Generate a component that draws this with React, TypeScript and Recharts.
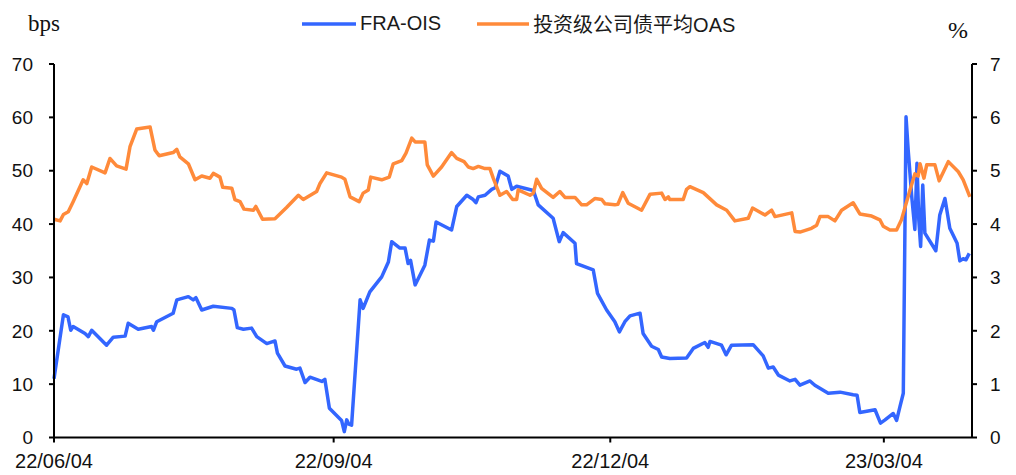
import React from 'react';
import { LineChart, Line, XAxis, YAxis, Legend } from 'recharts';

// x positions are days since 2022/06/04
const fraDays = [0, 3.1, 4.6, 5.5, 6.3, 10.2, 11.3, 12.4, 17.3, 19.5, 23.4, 24.4, 27.7, 32.1, 32.7, 33.8, 39.2, 40.4, 44.2, 45.8, 46.7, 48.6, 52.4, 58.5, 59.2, 60.3, 62.3, 65.0, 66.7, 70.0, 72.7, 73.5, 76.0, 79.8, 80.9, 82.6, 84.2, 88.1, 89.1, 90.6, 94.6, 95.5, 96.3, 97.0, 97.9, 100.7, 101.7, 103.9, 107.8, 110.0, 111.1, 113.8, 115.5, 116.5, 117.3, 118.8, 122.0, 123.5, 124.8, 125.7, 130.8, 132.5, 135.8, 137.9, 138.8, 139.6, 141.8, 144.0, 145.1, 146.7, 149.4, 150.6, 152.2, 157.7, 159.3, 164.2, 166.2, 167.5, 171.4, 171.9, 177.4, 178.8, 181.8, 184.5, 186.0, 187.8, 189.5, 192.8, 193.8, 196.6, 198.8, 199.9, 202.6, 208.1, 210.3, 214.1, 215.2, 215.8, 219.6, 221.1, 222.9, 230.0, 233.3, 235.0, 236.6, 238.3, 242.1, 243.8, 245.4, 248.7, 250.3, 254.7, 258.6, 262.9, 264.2, 265.1, 270.1, 271.9, 273.4, 276.1, 277.2, 278.3, 279.4, 280.3, 281.0, 282.2, 283.2, 283.9, 284.5, 285.1, 285.8, 286.5, 290.1, 291.4, 293.1, 294.7, 297.1, 298.0, 299.1, 300.0, 301.1];
const fraValues = [11, 23.0, 22.6, 20.1, 20.8, 19.5, 18.9, 20.1, 17.3, 18.8, 19.0, 21.4, 20.3, 20.8, 20.1, 21.7, 23.3, 25.8, 26.4, 25.8, 26.2, 23.9, 24.6, 24.2, 23.9, 20.6, 20.3, 20.5, 18.9, 17.6, 18.1, 15.8, 13.4, 12.8, 13.0, 10.3, 11.3, 10.5, 10.9, 5.5, 3.2, 1.1, 3.3, 2.5, 2.3, 25.8, 24.2, 27.3, 30.1, 32.9, 36.7, 35.5, 35.5, 32.6, 33.2, 28.6, 32.3, 37.0, 36.8, 40.4, 38.9, 43.3, 45.4, 44.6, 44.0, 45.1, 45.4, 46.5, 46.8, 49.9, 49.0, 46.5, 47.1, 46.3, 43.6, 41.1, 36.7, 38.4, 36.4, 32.6, 31.4, 27.0, 23.9, 21.7, 19.8, 21.7, 22.8, 23.3, 19.5, 17.1, 16.5, 15.1, 14.8, 14.9, 16.7, 17.8, 16.9, 18.0, 17.3, 15.5, 17.3, 17.4, 15.3, 13.0, 13.2, 11.7, 10.6, 10.9, 9.8, 10.6, 9.8, 8.3, 8.5, 8.0, 7.9, 4.7, 5.2, 2.7, 3.3, 4.5, 3.2, 5.8, 8.3, 60.1, 53.9, 45, 39.0, 51.4, 40.8, 35.8, 47.3, 38.3, 35.0, 41.7, 44.8, 39.2, 36.4, 33.1, 33.5, 33.3, 34.5];

const oasDays = [0, 2.0, 3.1, 4.7, 6.3, 9.6, 10.8, 12.4, 16.8, 18.4, 20.6, 23.7, 25.0, 27.2, 31.6, 33.2, 34.6, 39.2, 40.4, 41.4, 44.2, 46.4, 48.6, 51.3, 52.4, 54.6, 55.5, 58.5, 59.5, 61.2, 62.5, 65.6, 66.4, 68.6, 72.7, 76.5, 80.4, 82.0, 86.4, 87.5, 89.7, 94.6, 95.7, 97.4, 100.4, 101.7, 103.4, 104.2, 107.8, 110.3, 111.6, 114.4, 115.8, 117.7, 118.8, 122.0, 122.8, 124.8, 127.5, 130.8, 132.5, 134.9, 136.3, 137.9, 139.6, 141.8, 143.4, 144.5, 146.7, 148.9, 150.9, 152.2, 152.7, 156.6, 157.7, 158.8, 160.4, 164.2, 166.4, 168.1, 171.4, 173.6, 175.2, 178.0, 180.2, 181.3, 184.5, 185.5, 187.1, 188.9, 193.3, 196.1, 199.9, 201.0, 202.1, 202.6, 207.0, 208.1, 209.2, 213.6, 218.0, 221.3, 224.0, 228.4, 229.8, 233.9, 236.1, 237.2, 242.7, 243.8, 245.4, 249.2, 250.9, 252.0, 254.7, 256.9, 259.1, 262.9, 265.1, 269.0, 271.7, 272.8, 275.0, 277.2, 278.8, 281.6, 283.2, 284.3, 284.9, 286.2, 287.1, 289.8, 291.2, 294.2, 297.5, 299.1, 301.3];
const oasValues = [4.09, 4.06, 4.18, 4.23, 4.42, 4.83, 4.76, 5.07, 4.96, 5.23, 5.09, 5.03, 5.45, 5.78, 5.82, 5.39, 5.28, 5.34, 5.40, 5.26, 5.13, 4.83, 4.90, 4.86, 4.95, 4.88, 4.69, 4.67, 4.46, 4.42, 4.28, 4.26, 4.33, 4.09, 4.10, 4.31, 4.54, 4.46, 4.61, 4.76, 4.96, 4.88, 4.84, 4.51, 4.42, 4.58, 4.64, 4.88, 4.83, 4.88, 5.13, 5.19, 5.33, 5.61, 5.54, 5.54, 5.11, 4.90, 5.07, 5.34, 5.23, 5.17, 5.07, 5.04, 5.08, 5.04, 5.04, 4.86, 4.54, 4.61, 4.46, 4.46, 4.64, 4.54, 4.58, 4.84, 4.67, 4.50, 4.61, 4.50, 4.50, 4.36, 4.36, 4.48, 4.46, 4.38, 4.36, 4.37, 4.59, 4.39, 4.26, 4.56, 4.58, 4.46, 4.51, 4.46, 4.46, 4.65, 4.70, 4.59, 4.36, 4.26, 4.06, 4.11, 4.30, 4.17, 4.26, 4.14, 4.21, 3.86, 3.85, 3.92, 3.98, 4.14, 4.14, 4.06, 4.26, 4.40, 4.19, 4.15, 4.08, 3.96, 3.89, 3.89, 4.08, 4.64, 4.94, 4.90, 5.13, 4.86, 5.11, 5.11, 4.81, 5.17, 4.98, 4.83, 4.51];

const xTicks = [0, 92, 183, 273];
const leftTicks = [0, 10, 20, 30, 40, 50, 60, 70];
const rightTicks = [0, 1, 2, 3, 4, 5, 6, 7];

const BLUE = '#3366FF';
const ORANGE = '#FF8A3A';
const START = Date.UTC(2022, 5, 4);

const fraData = fraDays.map((d, i) => ({ day: d, v: fraValues[i] }));
const oasData = oasDays.map((d, i) => ({ day: d, v: oasValues[i] }));

const pad = (n: number) => String(n).padStart(2, '0');
const fmtDay = (d: number) => {
    const dt = new Date(START + d * 86400000);
    return `${String(dt.getUTCFullYear()).slice(2)}/${pad(dt.getUTCMonth() + 1)}/${pad(dt.getUTCDate())}`;
};

const tickFont = { fill: '#111', fontSize: 19, fontFamily: '"Liberation Sans", Arial, sans-serif' };
const axisStyle = { stroke: '#000', strokeWidth: 2 };

const LegendContent = () => (
    <div style={{ display: 'flex', alignItems: 'center', fontFamily: '"Liberation Sans", "Noto Sans CJK SC", sans-serif', fontSize: 20, color: '#1a1a1a' }}>
        <svg width={54} height={6}><line x1={0} y1={3} x2={54} y2={3} stroke={BLUE} strokeWidth={3.5} /></svg>
        <span style={{ marginLeft: 4 }}>FRA-OIS</span>
        <svg width={52} height={6} style={{ marginLeft: 36 }}><line x1={0} y1={3} x2={52} y2={3} stroke={ORANGE} strokeWidth={3.5} /></svg>
        <span style={{ marginLeft: 4 }}>投资级公司债平均OAS</span>
    </div>
);

export default function App() {
    return (
        <div style={{ position: 'absolute', left: 0, top: 0, background: '#fff' }}>
            <LineChart width={1016} height={475} margin={{ top: 64, right: 0, bottom: 0, left: 0 }}>
                <XAxis
                    type="number"
                    dataKey="day"
                    domain={[0, 302]}
                    ticks={xTicks}
                    tickFormatter={fmtDay}
                    height={37.5}
                    tick={{ ...tickFont, fontSize: 20 }}
                    tickSize={5}
                    tickMargin={11}
                    axisLine={axisStyle}
                    tickLine={axisStyle}
                    allowDecimals
                />
                <YAxis
                    yAxisId="left"
                    domain={[0, 70]}
                    ticks={leftTicks}
                    width={54}
                    tick={tickFont}
                    tickSize={5}
                    tickMargin={16}
                    axisLine={axisStyle}
                    tickLine={axisStyle}
                    label={{ value: 'bps', position: 'top', offset: 33, dx: 17, fontSize: 23, fill: '#111', fontFamily: '"Liberation Serif", serif' }}
                />
                <YAxis
                    yAxisId="right"
                    orientation="right"
                    domain={[0, 7]}
                    ticks={rightTicks}
                    width={44}
                    tick={tickFont}
                    tickSize={5}
                    tickMargin={13}
                    axisLine={axisStyle}
                    tickLine={axisStyle}
                    label={{ value: '%', position: 'top', offset: 26, dx: -36, fontSize: 24, fill: '#111', fontFamily: '"Liberation Serif", serif' }}
                />
                <Legend
                    layout="horizontal"
                    verticalAlign="middle"
                    align="center"
                    content={<LegendContent />}
                    wrapperStyle={{ top: 9, left: 302, width: 'auto' }}
                />
                <Line
                    yAxisId="left"
                    data={fraData}
                    dataKey="v"
                    name="FRA-OIS"
                    stroke={BLUE}
                    strokeWidth={3.5}
                    strokeLinejoin="round"
                    dot={false}
                    isAnimationActive={false}
                />
                <Line
                    yAxisId="right"
                    data={oasData}
                    dataKey="v"
                    name="投资级公司债平均OAS"
                    stroke={ORANGE}
                    strokeWidth={3.5}
                    strokeLinejoin="round"
                    dot={false}
                    isAnimationActive={false}
                />
            </LineChart>
        </div>
    );
}
